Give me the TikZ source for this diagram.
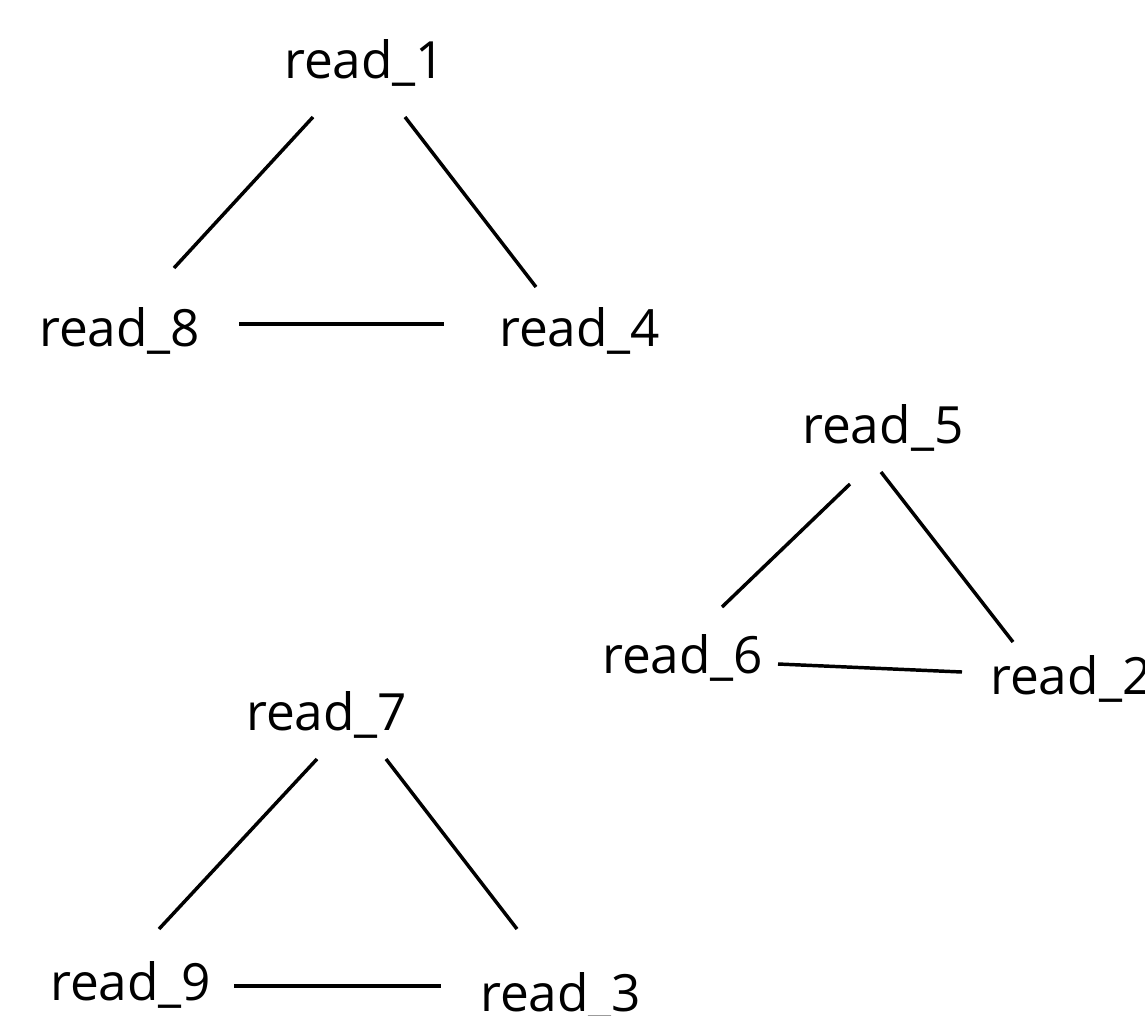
\documentclass[tikz,border=0pt]{standalone}
\usepackage{fontspec}
\setmainfont{Open Sans}
\begin{document}
\begin{tikzpicture}[x=0.75pt,y=-0.75pt,
  lbl/.style={anchor=base west,inner sep=0pt,font=\fontsize{38.5}{46}\selectfont},
  edge/.style={line width=2.6pt,black}]
\useasboundingbox (0,0) rectangle (1145,1015);
\clip (0,0) rectangle (1145,1015);
\node[lbl] (r1) at (284,78) {read\_1};
\node[lbl] (r8) at (39,346) {read\_8};
\node[lbl] (r4) at (499,346) {read\_4};
\node[lbl] (r5) at (802,443) {read\_5};
\node[lbl] (r6) at (602,673) {read\_6};
\node[lbl] (r2) at (990,694) {read\_2};
\node[lbl] (r7) at (246,730) {read\_7};
\node[lbl] (r9) at (50,1000) {read\_9};
\node[lbl] (r3) at (480,1011) {read\_3};
\draw[edge] ([shift={(29,39)}]r1.base west) -- ([shift={(135,-78)}]r8.base west);
\draw[edge] ([shift={(121,39)}]r1.base west) -- ([shift={(37,-59)}]r4.base west);
\draw[edge] ([shift={(200,-22)}]r8.base west) -- ([shift={(-55,-22)}]r4.base west);
\draw[edge] ([shift={(48,41)}]r5.base west) -- ([shift={(120,-66)}]r6.base west);
\draw[edge] ([shift={(79,29)}]r5.base west) -- ([shift={(23,-52)}]r2.base west);
\draw[edge] ([shift={(176,-9)}]r6.base west) -- ([shift={(-28,-22)}]r2.base west);
\draw[edge] ([shift={(71,29)}]r7.base west) -- ([shift={(109,-71)}]r9.base west);
\draw[edge] ([shift={(140,29)}]r7.base west) -- ([shift={(37,-82)}]r3.base west);
\draw[edge] ([shift={(184,-14)}]r9.base west) -- ([shift={(-39,-25)}]r3.base west);
\end{tikzpicture}
\end{document}
